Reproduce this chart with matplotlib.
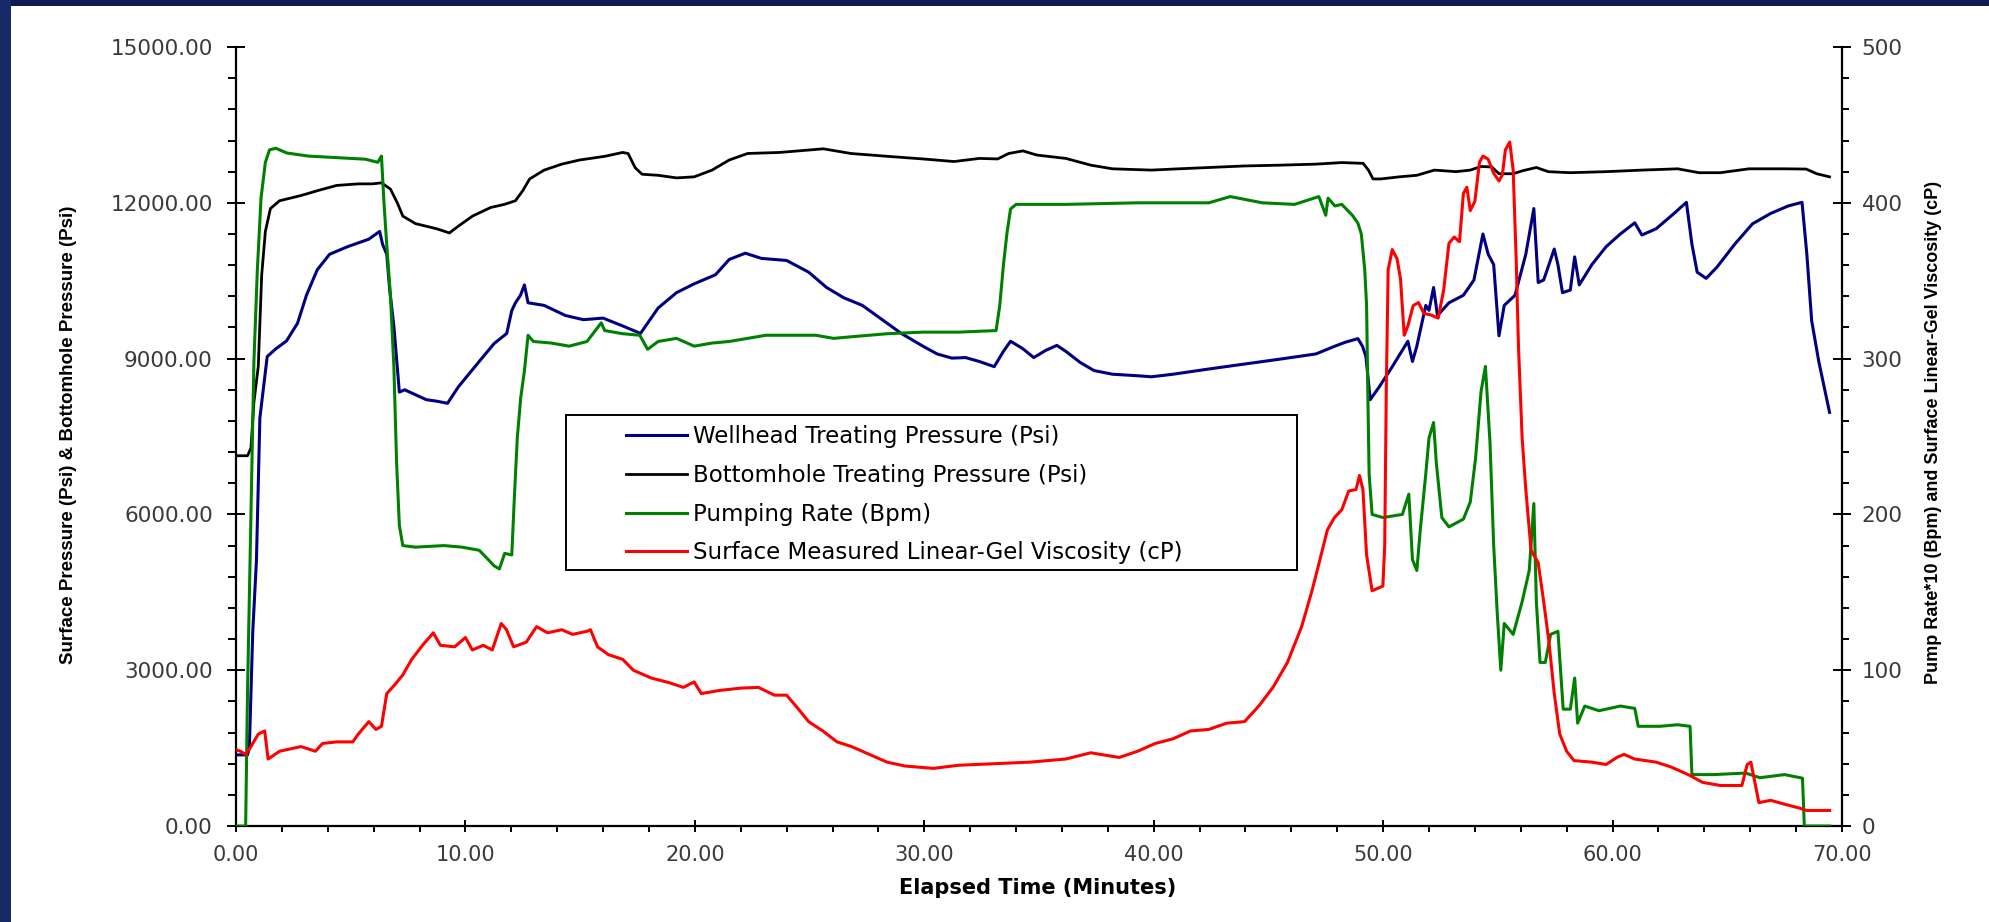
import matplotlib
matplotlib.use('Agg')
import matplotlib.pyplot as plt
from matplotlib.patches import Rectangle
from matplotlib.ticker import MultipleLocator, FormatStrFormatter

# wellhead treating pressure (psi), left axis
wh_t = [0, 0.5, 0.58, 0.73, 0.89, 1.04, 1.2, 1.36, 1.74, 2.2,
        2.68, 3.07, 3.54, 4.08, 4.86, 5.79, 6.26, 6.39, 6.57, 6.7,
        6.88, 7.12, 7.35, 7.82, 8.29, 8.75, 9.22, 9.69, 10.6, 11.25,
        11.8, 12.02, 12.18, 12.4, 12.57, 12.73, 13.43, 14.36, 15.14, 16.0,
        16.85, 17.63, 18.4, 19.2, 19.97, 20.9, 21.5, 22.2, 22.9, 24.0,
        24.96, 25.74, 26.5, 27.3, 28.07, 29.0, 29.94, 30.56, 31.2, 31.8,
        32.4, 33.05, 33.45, 33.76, 34.3, 34.77, 35.3, 35.78, 36.17, 36.8,
        37.4, 38.2, 39.3, 39.9, 40.85, 42.4, 43.96, 45.5, 47.07, 47.9,
        48.35, 48.9, 49.1, 49.25, 49.44, 49.83, 50.4, 51.08, 51.28, 51.47,
        51.86, 52.0, 52.2, 52.37, 52.87, 53.5, 53.96, 54.35, 54.58, 54.82,
        55.05, 55.28, 55.75, 56.22, 56.57, 56.76, 57.0, 57.46, 57.62, 57.82,
        58.16, 58.35, 58.55, 59.1, 59.72, 60.34, 60.97, 61.28, 61.9, 62.68,
        63.22, 63.46, 63.69, 64.08, 64.55, 65.33, 66.1, 66.89, 67.66, 68.26,
        68.47, 68.68, 68.99, 69.46]
wh_psi = [1370, 1370, 1500, 3740, 5110, 7860, 8450, 9040, 9190, 9340,
          9680, 10220, 10710, 11010, 11155, 11300, 11450, 11200, 11010, 10320,
          9630, 8355, 8400, 8305, 8210, 8180, 8140, 8455, 8945, 9290,
          9485, 9925, 10075, 10220, 10420, 10075, 10025, 9830, 9750, 9780,
          9630, 9485, 9975, 10270, 10440, 10615, 10910, 11030, 10930, 10890,
          10665, 10370, 10170, 10025, 9780, 9485, 9240, 9090, 9010, 9020,
          8945, 8845, 9140, 9335, 9190, 9020, 9160, 9255, 9140, 8925,
          8770, 8700, 8670, 8650, 8700, 8800, 8895, 8990, 9090, 9240,
          9315, 9385, 9240, 9040, 8210, 8455, 8845, 9335, 8945, 9240,
          10025, 9930, 10370, 9830, 10075, 10220, 10515, 11400, 11010, 10810,
          9440, 10025, 10220, 11010, 11890, 10465, 10515, 11110, 10810, 10270,
          10320, 10960, 10420, 10810, 11155, 11400, 11615, 11380, 11500, 11795,
          12010, 11205, 10665, 10545, 10760, 11205, 11595, 11795, 11940, 12010,
          11010, 9730, 8945, 7965]

# bottomhole treating pressure (psi), left axis
bh_t = [0, 0.5, 0.65, 0.78, 0.97, 1.12, 1.28, 1.5, 1.9, 2.83,
        3.6, 4.39, 5.33, 5.95, 6.34, 6.73, 7.04, 7.27, 7.82, 8.75,
        9.3, 9.69, 10.31, 11.1, 11.7, 12.18, 12.5, 12.8, 13.43, 14.2,
        14.98, 16.07, 16.85, 17.09, 17.4, 17.7, 18.4, 19.2, 19.97, 20.75,
        21.5, 22.3, 23.7, 25.6, 26.8, 28.4, 29.94, 31.3, 32.4, 33.2,
        33.68, 34.3, 34.9, 36.17, 37.26, 38.2, 39.9, 40.85, 42.4, 43.96,
        45.5, 47.07, 48.2, 49.13, 49.36, 49.56, 49.9, 50.7, 51.47, 52.24,
        53.18, 53.8, 54.27, 54.74, 55.05, 55.67, 56.1, 56.68, 57.2, 58.16,
        59.72, 61.28, 62.84, 63.77, 64.7, 65.95, 67.5, 68.44, 68.9, 69.46]
bh_psi = [7130, 7130, 7275, 8160, 8850, 10615, 11450, 11890, 12040, 12140,
          12240, 12335, 12365, 12365, 12385, 12265, 11990, 11745, 11600, 11500,
          11420, 11550, 11745, 11910, 11970, 12040, 12235, 12460, 12630, 12745,
          12825, 12895, 12970, 12950, 12675, 12550, 12530, 12480, 12500, 12630,
          12825, 12950, 12970, 13040, 12950, 12895, 12845, 12795, 12855, 12845,
          12950, 13000, 12920, 12855, 12725, 12655, 12630, 12650, 12680, 12710,
          12725, 12745, 12775, 12760, 12630, 12460, 12460, 12500, 12530, 12630,
          12600, 12630, 12700, 12690, 12560, 12560, 12620, 12680, 12600, 12580,
          12600, 12630, 12655, 12580, 12580, 12655, 12655, 12650, 12560, 12500]

# pumping rate *10 (bpm), right axis
rate_t = [0, 0.42, 0.5, 0.62, 0.78, 0.93, 1.09, 1.28, 1.46, 1.74,
          2.21, 3.15, 4.39, 5.64, 6.18, 6.34, 6.45, 6.57, 6.73, 6.88,
          7.0, 7.12, 7.27, 7.82, 9.07, 9.84, 10.6, 10.93, 11.25, 11.48,
          11.71, 12.02, 12.13, 12.26, 12.41, 12.57, 12.73, 12.96, 13.74, 14.52,
          15.3, 15.92, 16.07, 16.85, 17.6, 17.94, 18.4, 19.2, 19.97, 20.75,
          21.5, 22.3, 23.1, 24.1, 25.27, 26.05, 26.8, 28.4, 29.94, 31.5,
          33.13, 33.29, 33.45, 33.6, 33.76, 34.0, 36.17, 39.3, 42.4, 43.34,
          44.74, 46.14, 47.2, 47.5, 47.6, 47.9, 48.2, 48.66, 48.9, 49.05,
          49.2, 49.28, 49.33, 49.39, 49.52, 49.99, 50.84, 51.12, 51.28, 51.47,
          51.62, 51.86, 52.0, 52.2, 52.32, 52.56, 52.87, 53.5, 53.8, 54.03,
          54.27, 54.46, 54.66, 54.82, 54.97, 55.13, 55.28, 55.67, 56.06, 56.37,
          56.57, 56.68, 56.84, 57.07, 57.3, 57.62, 57.85, 58.16, 58.35, 58.48,
          58.79, 59.41, 60.34, 60.97, 61.12, 62.06, 62.84, 63.38, 63.46, 64.39,
          65.8, 66.42, 67.5, 68.28, 68.36, 69.46]
rate_x10 = [0, 0, 85, 177, 298, 357, 403, 426, 434, 435,
            432, 430, 429, 428, 426, 430, 400, 373, 341, 295,
            233, 193, 180, 179, 180, 179, 177, 172, 167, 165,
            175, 174, 210, 249, 275, 292, 315, 311, 310, 308,
            311, 323, 318, 316, 315, 306, 311, 313, 308, 310,
            311, 313, 315, 315, 315, 313, 314, 316, 317, 317,
            318, 334, 360, 380, 396, 399, 399, 400, 400, 404,
            400, 399, 404, 392, 403, 398, 399, 392, 387, 380,
            357, 334, 282, 226, 200, 198, 200, 213, 171, 164,
            190, 226, 249, 259, 233, 198, 192, 197, 208, 236,
            279, 295, 246, 180, 138, 100, 130, 123, 144, 164,
            207, 144, 105, 105, 123, 125, 75, 75, 95, 66,
            77, 74, 77, 75.5, 64, 64, 65, 64, 33, 33,
            34, 31, 33, 30.7, 0, 0]

# surface measured linear-gel viscosity (cP), right axis
visc_t = [0, 0.19, 0.42, 0.65, 0.97, 1.25, 1.4, 1.9, 2.83, 3.46,
          3.77, 4.39, 5.09, 5.33, 5.79, 6.1, 6.34, 6.57, 6.88, 7.27,
          7.66, 8.13, 8.6, 8.91, 9.53, 10.0, 10.3, 10.78, 11.17, 11.56,
          11.79, 12.1, 12.65, 13.1, 13.58, 14.2, 14.67, 15.3, 15.45, 15.76,
          16.23, 16.85, 17.32, 18.1, 18.88, 19.5, 19.97, 20.28, 21.06, 22.0,
          22.77, 23.47, 24.0, 24.49, 24.96, 25.58, 26.2, 26.83, 27.6, 28.38,
          29.16, 30.4, 31.5, 33.06, 34.6, 36.17, 37.26, 38.5, 39.3, 40.07,
          40.85, 41.6, 42.4, 43.18, 43.96, 44.58, 45.2, 45.83, 46.45, 46.9,
          47.23, 47.57, 47.88, 48.2, 48.5, 48.82, 48.97, 49.12, 49.28, 49.52,
          49.99, 50.07, 50.14, 50.22, 50.4, 50.61, 50.76, 50.92, 51.08, 51.31,
          51.54, 51.78, 52.09, 52.4, 52.64, 52.87, 53.1, 53.33, 53.5, 53.65,
          53.8, 54.0, 54.2, 54.35, 54.58, 54.82, 55.05, 55.2, 55.33, 55.52,
          55.67, 55.8, 55.9, 56.06, 56.22, 56.45, 56.76, 57.0, 57.23, 57.46,
          57.7, 58.0, 58.32, 59.1, 59.72, 60.19, 60.5, 60.97, 61.9, 62.53,
          63.3, 63.93, 64.7, 65.64, 65.87, 66.03, 66.18, 66.38, 66.89, 67.5,
          68.13, 68.44, 69.46]
visc_cp = [49, 48, 46, 51, 59, 61, 43, 48, 51, 48,
           53, 54, 54, 59, 67, 62, 64, 85, 90, 97,
           107, 116, 124, 116, 115, 121, 113, 116, 113, 130,
           126, 115, 118, 128, 124, 126, 123, 125, 126, 115,
           110, 107, 100, 95, 92, 89, 92.5, 85, 87, 88.5,
           89, 84, 84, 75.5, 67, 61, 54, 51, 46, 41,
           38.5, 37, 39, 40, 41, 43, 47, 44, 48, 53,
           56, 61, 62, 66, 67, 77, 89, 105, 128, 151,
           170, 190, 198, 203, 215, 216, 225, 216, 174, 151,
           154, 180, 282, 357, 370, 364, 351, 315, 321, 334,
           336, 329, 328, 326, 344, 374, 378, 375, 406, 410,
           395, 401, 426, 430, 428, 419, 414, 418, 434, 439,
           421, 364, 308, 249, 216, 177, 169, 144, 118, 85,
           59, 48, 42, 41, 39.5, 44, 46, 43, 41, 38,
           33, 28, 26, 26, 39.5, 41, 30, 15, 16.5, 14,
           11.6, 10, 10]

labels = ['Wellhead Treating Pressure (Psi)',
          'Bottomhole Treating Pressure (Psi)',
          'Pumping Rate (Bpm)',
          'Surface Measured Linear-Gel Viscosity (cP)']

tick_col = '#3a3a3a'
label_font = ['Liberation Sans', 'DejaVu Sans']

fig = plt.figure(figsize=(19.9, 9.22), dpi=100)
# dark blue frame along the top and left edges of the slide
fig.patches.append(Rectangle((0, 1 - 6 / 922), 1, 6 / 922, transform=fig.transFigure,
                             facecolor='#0f1a55', edgecolor='none'))
fig.patches.append(Rectangle((0, 0), 11 / 1990, 1, transform=fig.transFigure,
                             facecolor='#162a68', edgecolor='none'))

ax = fig.add_axes([0.1186, 0.1041, 0.807, 0.8449])
ax2 = ax.twinx()

l1, = ax.plot(wh_t, wh_psi, color='#000080', lw=2.2)
l2, = ax.plot(bh_t, bh_psi, color='black', lw=2.0)
l3, = ax2.plot(rate_t, rate_x10, color='#008000', lw=2.2)
l4, = ax2.plot(visc_t, visc_cp, color='#ff0000', lw=2.2)

ax.set_xlim(0, 70)
ax.set_ylim(0, 15000)
ax2.set_ylim(0, 500)

ax.xaxis.set_major_locator(MultipleLocator(10))
ax.xaxis.set_minor_locator(MultipleLocator(2))
ax.yaxis.set_major_locator(MultipleLocator(3000))
ax.yaxis.set_minor_locator(MultipleLocator(600))
ax2.yaxis.set_major_locator(MultipleLocator(100))
ax2.yaxis.set_minor_locator(MultipleLocator(20))
ax.xaxis.set_major_formatter(FormatStrFormatter('%.2f'))
ax.yaxis.set_major_formatter(FormatStrFormatter('%.2f'))
ax2.yaxis.set_major_formatter(FormatStrFormatter('%d'))

for a in (ax, ax2):
    a.spines['top'].set_visible(False)
    for s in a.spines.values():
        s.set_linewidth(1.6)
ax.spines['right'].set_visible(False)
ax2.spines['left'].set_visible(False)
ax2.spines['bottom'].set_visible(False)

ax.tick_params(axis='x', which='major', direction='inout', length=8, width=1.4,
               pad=10, labelsize=15, labelcolor=tick_col)
ax.tick_params(axis='x', which='minor', direction='out', length=4, width=1.4)
ax.tick_params(axis='y', which='major', direction='inout', length=12.5, width=1.4,
               pad=10.5, labelsize=15.5, labelcolor=tick_col)
ax.tick_params(axis='y', which='minor', direction='out', length=5.5, width=1.4)
ax2.tick_params(axis='y', which='major', direction='inout', length=12.5, width=1.4,
                pad=8, labelsize=15.5, labelcolor=tick_col)
ax2.tick_params(axis='y', which='minor', direction='out', length=5, width=1.4)

ax.set_xlabel('Elapsed Time (Minutes)', fontsize=15, fontweight='bold', va='center')
ax.xaxis.set_label_coords(0.4994, -0.0796)
ax.set_ylabel('Surface Pressure (Psi) & Bottomhole Pressure (Psi)', family=label_font,
              fontsize=13.5, fontweight='bold', va='center')
ax.yaxis.set_label_coords(-0.104, 0.502)
ax2.set_ylabel('Pump Rate*10 (Bpm) and Surface Linear-Gel Viscosity (cP)', family=label_font,
               fontsize=13, fontweight='bold', va='center')
ax2.yaxis.set_label_coords(1.0573, 0.505)

# legend frame drawn separately so the entries sit where the original has them
ax2.add_patch(Rectangle((0.2055, 0.3286), 0.4552, 0.199, transform=ax2.transAxes,
                        facecolor='white', edgecolor='black', lw=1.4, zorder=4))
ax2.legend([l1, l2, l3, l4], labels, loc='upper left', bbox_to_anchor=(0.2428, 0.5148),
           bbox_transform=ax2.transAxes, frameon=False, borderpad=0, borderaxespad=0,
           handlelength=2.66, handletextpad=0.26, labelspacing=0.69, fontsize=16.5)

fig.savefig('out.png', dpi=100, facecolor='white')
